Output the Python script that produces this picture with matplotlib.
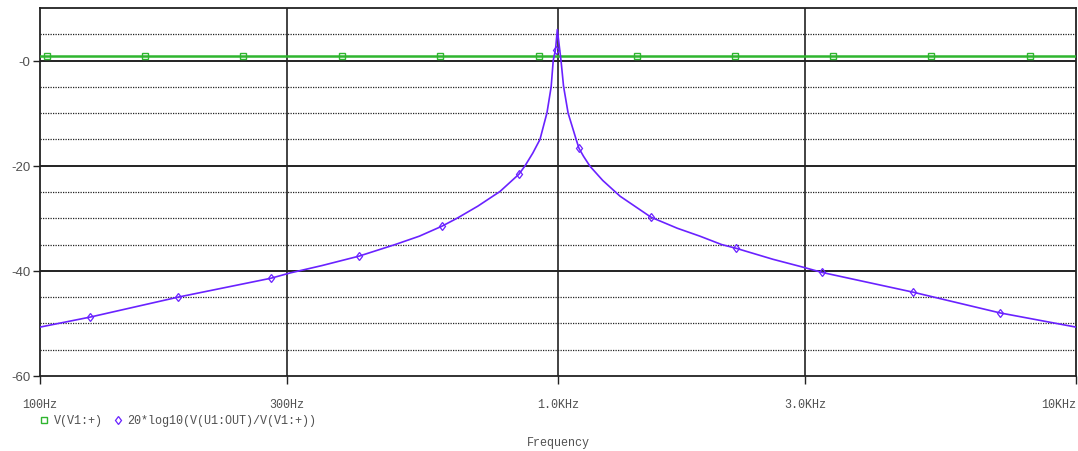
import numpy as np
import matplotlib; matplotlib.use("Agg")
import matplotlib.pyplot as plt
from matplotlib.lines import Line2D

# AC sweep
freq_hz = [100, 124.9, 184.7, 279.2, 303.9, 350, 412.9, 484.7, 540, 597.1, 638.3, 700, 772.7,
           840.9, 863.9, 894, 923, 952.3, 970, 979.0, 989.0, 997.0, 1013.5, 1025, 1046,
           1084, 1097.9, 1120, 1152.8, 1220, 1317.7, 1512.3, 1700, 1879, 2070, 2206, 2600, 2972, 3234,
           4845, 7135, 10000]
gain_db = [-50.7, -48.8, -45.0, -41.4, -40.4, -39.0, -37.2, -35.0, -33.4, -31.5, -30.0, -27.7,
           -24.9, -21.6, -20.0, -17.6, -15.0, -9.9, -5.0, 0.0, 2.1, 5.9, 0.0, -4.9, -10.0,
           -15.0, -16.7, -18.2, -20.1, -22.8, -25.8, -29.8, -31.9, -33.4, -35.0, -35.7, -37.8, -39.3, -40.3,
           -44.05, -48.0, -50.7]
gain_mark_f = [124.9, 184.7, 279.2, 412.9, 597.1, 840.9, 989.0, 1097.9, 1512.3, 2206, 3234, 4845, 7135]
gain_mark_db = [-48.8, -45.0, -41.4, -37.2, -31.5, -21.6, 2.1, -16.7, -29.8, -35.7, -40.3, -44.05, -48.0]

vin_f = [100, 10000]
vin_v = [0.85, 0.85]
vin_mark_f = [103.2, 159.5, 246.5, 382.8, 591.7, 919, 1420, 2196, 3395, 5249, 8150]
vin_mark_v = [0.85] * len(vin_mark_f)

xticks = [100, 300, 1000, 3000, 10000]
xticklabels = ["100Hz", "300Hz", "1.0KHz", "3.0KHz", "10KHz"]
yticks = [-60, -40, -20, 0]
yticklabels = ["-60", "-40", "-20", "-0"]
ymajor = [-40, -20, 0]
yminor = [-55, -50, -45, -35, -30, -25, -15, -10, -5, 5]

GREEN = "#2fb52f"
PURPLE = "#6a22ff"
MONO = "Liberation Mono"
TXT = "#505050"

fig = plt.figure(figsize=(10.78, 4.52), dpi=100)
ax = fig.add_axes([40 / 1078, 1 - 377 / 452, 1036 / 1078, 368 / 452])
ax.set_xscale("log")
ax.set_xlim(100, 10000)
ax.set_ylim(-60, 10)

for y in yminor:
    ax.axhline(y, color="#222", lw=0.9, ls=(0, (1, 1)), zorder=1)
for y in ymajor:
    ax.axhline(y, color="#111", lw=1.3, zorder=1)
for x in xticks[1:-1]:
    ax.axvline(x, color="#222", lw=1.2, zorder=1)

ax.plot(vin_f, vin_v, color=GREEN, lw=1.8, zorder=3)
ax.plot(vin_mark_f, vin_mark_v, ls="none", marker="s", ms=4.5, mfc="none", mec=GREEN, mew=1.0, zorder=4)
ax.plot(freq_hz, gain_db, color=PURPLE, lw=1.2, zorder=3)
ax.plot(gain_mark_f, gain_mark_db, ls="none", marker="d", ms=4.5, mfc="none", mec=PURPLE, mew=0.9, zorder=4)

ax.set_xticks(xticks)
ax.set_xticklabels(xticklabels, fontfamily=MONO, fontsize=8.5, color=TXT)
ax.xaxis.set_minor_locator(matplotlib.ticker.NullLocator())
ax.tick_params(axis="x", length=6, width=1.0, color="#222", pad=10)
ax.get_xticklabels()[-1].set_horizontalalignment("right")
ax.set_yticks(yticks)
ax.set_yticklabels(yticklabels, fontfamily="Liberation Sans", fontsize=9.5, color=TXT)
ax.tick_params(axis="y", length=5, width=1.0, color="#222", pad=2)
for s in ax.spines.values():
    s.set_color("#222")
    s.set_linewidth(1.3)

# legend row and axis title
fig.add_artist(Line2D([44 / 1078], [1 - 421 / 452], ls="none", marker="s", ms=4.5, mfc="none",
                      mec=GREEN, mew=1.0))
fig.text(54 / 1078, 1 - 421 / 452, "V(V1:+)", fontfamily=MONO, fontsize=8.5, color=TXT, va="center")
fig.add_artist(Line2D([118 / 1078], [1 - 421 / 452], ls="none", marker="d", ms=4.5, mfc="none",
                      mec=PURPLE, mew=0.9))
fig.text(127 / 1078, 1 - 421 / 452, "20*log10(V(U1:OUT)/V(V1:+))", fontfamily=MONO, fontsize=8.5,
         color=TXT, va="center")
fig.text(558 / 1078, 1 - 443 / 452, "Frequency", fontfamily=MONO, fontsize=8.5, color=TXT,
         ha="center", va="center")

fig.savefig("out.png", dpi=100)
